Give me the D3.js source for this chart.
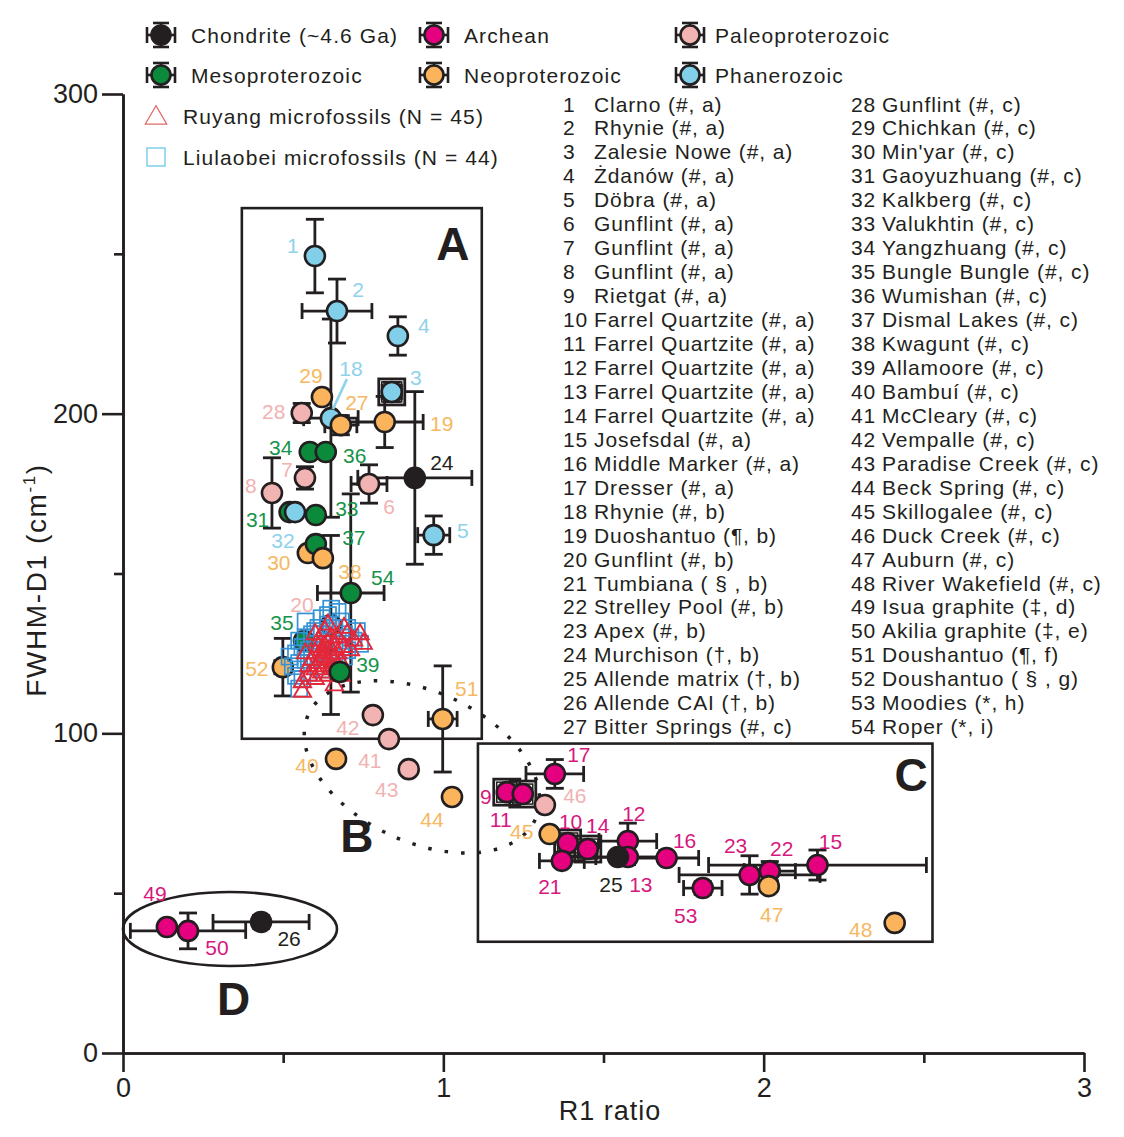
<!DOCTYPE html>
<html>
<head>
<meta charset="utf-8">
<script src="https://cdn.jsdelivr.net/npm/d3@7"></script>
<style>
	body { margin:0; background:#fff; }
	text { font-family: "Liberation Sans", Arial, sans-serif; }
</style>
</head>
<body>
<script>
//site numbers and their age group
var siteIds = [1,2,3,4,5,6,7,8,9,10,11,12,13,14,15,16,17,18,19,20,21,22,23,24,25,26,27,
	28,29,30,31,32,33,34,35,36,37,38,39,40,41,42,43,44,45,46,47,48,49,50,51,52,53,54];
var siteGroup = ["Phan","Phan","Phan","Phan","Phan","Paleo","Paleo","Paleo","Arch","Arch",
	"Arch","Arch","Arch","Arch","Arch","Arch","Arch","Phan","Neo","Paleo",
	"Arch","Arch","Arch","Chond","Chond","Chond","Neo","Paleo","Neo","Neo",
	"Meso","Phan","Meso","Meso","Meso","Meso","Meso","Neo","Meso","Neo",
	"Paleo","Paleo","Paleo","Neo","Neo","Paleo","Neo","Neo","Arch","Arch",
	"Neo","Neo","Arch","Meso"];

//R1 ratio and FWHM-D1 (cm-1) with errors
var r1 = [0.599,0.668,0.839,0.858,0.970,0.768,0.568,0.465,1.198,1.388,
	1.248,1.576,1.576,1.451,2.168,1.697,1.348,0.649,0.817,0.649,
	1.370,2.019,1.956,0.911,1.545,0.431,0.680,0.558,0.621,0.577,
	0.520,0.537,0.602,0.583,0.565,0.633,0.602,0.624,0.677,0.665,
	0.830,0.780,0.892,1.027,1.332,1.317,2.016,2.409,0.137,0.203,
	0.998,0.499,1.810,0.711];
var fwhm = [249.3,232.1,206.8,224.3,162.0,178.0,179.9,175.2,81.6,65.7,
	81.0,66.3,61.3,63.8,58.8,61.0,87.3,198.6,197.4,133.9,
	60.1,56.9,55.7,179.9,61.3,41.0,196.4,200.2,205.2,156.4,
	169.2,169.2,168.3,188.0,128.9,188.0,159.2,154.8,119.2,92.0,
	98.2,105.7,88.8,80.1,68.5,77.6,52.2,40.7,39.4,38.2,
	104.5,120.7,51.6,143.9];
var r1Err = [0.02,0.109,0.03,0.015,0.05,0.056,0.02,0.01,0,0,
	0,0.09,0.1,0,0.34,0.1,0.09,0.085,0.12,0,
	0.07,0.08,0.22,0.178,0.15,0.15,0.05,0.015,0,0,
	0,0,0,0,0,0,0,0,0,0,
	0,0,0,0,0,0,0,0,0,0.18,
	0.045,0.025,0.06,0.104];
var fwhmErr = [11.5,10,3,6,6,6,3.5,11,0,0,
	0,5.6,0,0,4.7,0,4.5,31,8,28,
	1.5,3,6,27,0,2,3,3,0,0,
	0,0,0,0,0,0,0,0,0,0,
	0,0,0,0,0,0,0,0,0,5.6,
	16.6,9,2,31];
var boxedSites = [3,9,11,10,14];

//microfossil clouds
var ruyangR1 = [0.63,0.65,0.61,0.64,0.66,0.62,0.60,0.63,0.65,0.67,
	0.61,0.63,0.65,0.62,0.64,0.66,0.60,0.59,0.68,0.69,
	0.64,0.62,0.66,0.63,0.61,0.58,0.67,0.70,0.72,0.75,
	0.74,0.71,0.56,0.56,0.58,0.60,0.66,0.68,0.69,0.64,
	0.57,0.65,0.62,0.64,0.60];
var ruyangFwhm = [132,130,129,128,127,126,125,124,124,125,
	122,121,121,119,118,120,120,123,122,127,
	126,123,123,127,127,121,130,131,129,128,
	131,126,116,113,118,117,115,118,133,134,
	125,126,124,122,131];
var liulaobeiR1 = [0.62,0.65,0.67,0.68,0.70,0.73,0.71,0.69,0.66,0.64,
	0.61,0.59,0.57,0.55,0.56,0.54,0.58,0.60,0.63,0.66,
	0.68,0.70,0.72,0.55,0.53,0.57,0.59,0.62,0.64,0.66,
	0.54,0.56,0.55,0.58,0.61,0.63,0.67,0.69,0.60,0.64,
	0.52,0.57,0.74,0.62];
var liulaobeiFwhm = [136,139,138,135,133,132,130,131,133,134,
	133,131,130,129,127,125,126,128,129,128,
	127,126,129,122,121,123,124,125,124,123,
	118,117,114,119,121,120,121,124,132,137,
	124,135,128,131];

//legend / site list text
var groupKeys = ["Chond","Arch","Paleo","Meso","Neo","Phan"];
var groupNames = ["Chondrite (~4.6 Ga)","Archean","Paleoproterozoic","Mesoproterozoic","Neoproterozoic","Phanerozoic"];
var siteNames = ["Clarno (#, a)","Rhynie (#, a)","Zalesie Nowe (#, a)","Żdanów (#, a)","Döbra (#, a)",
	"Gunflint (#, a)","Gunflint (#, a)","Gunflint (#, a)","Rietgat (#, a)","Farrel Quartzite (#, a)",
	"Farrel Quartzite (#, a)","Farrel Quartzite (#, a)","Farrel Quartzite (#, a)","Farrel Quartzite (#, a)",
	"Josefsdal (#, a)","Middle Marker (#, a)","Dresser (#, a)","Rhynie (#, b)","Duoshantuo (¶, b)",
	"Gunflint (#, b)","Tumbiana ( § , b)","Strelley Pool (#, b)","Apex (#, b)","Murchison (†, b)",
	"Allende matrix (†, b)","Allende CAI  (†, b)","Bitter Springs  (#, c)",
	"Gunflint (#, c)","Chichkan (#, c)","Min'yar (#, c)","Gaoyuzhuang (#, c)","Kalkberg (#, c)",
	"Valukhtin (#, c)","Yangzhuang (#, c)","Bungle Bungle (#, c)","Wumishan (#, c)","Dismal Lakes (#, c)",
	"Kwagunt (#, c)","Allamoore (#, c)","Bambuí (#, c)","McCleary (#, c)","Vempalle (#, c)",
	"Paradise Creek (#, c)","Beck Spring (#, c)","Skillogalee (#, c)","Duck Creek (#, c)","Auburn (#, c)",
	"River Wakefield (#, c)","Isua  graphite (‡, d)","Akilia graphite (‡, e)","Doushantuo (¶, f)",
	"Doushantuo ( § , g)","Moodies (*, h)","Roper (*, i)"];

//label offsets in px from each point (layout only)
var labelOffset = {1:[-22,-11],2:[21,-22],3:[24,-14],4:[26,-10],5:[29,-5],6:[20,23],7:[-18,-8],8:[-21,-7],
	9:[-21,4],10:[3,-21],11:[-22,25],12:[6,-28],13:[13,27],14:[10,-24],15:[13,-24],16:[18,-18],17:[24,-19],
	18:[20,-50],19:[57,2],20:[-29,-20],21:[-12,26],22:[12,-23],23:[-14,-29],24:[27,-15],25:[-7,27],26:[28,17],
	27:[16,-23],28:[-28,-2],29:[-11,-22],30:[-29,9],31:[-32,7],32:[-12,28],33:[31,-7],34:[-29,-5],35:[-22,-18],
	36:[29,3],37:[38,-7],38:[27,13],39:[28,-7],40:[-29,7],41:[-19,21],42:[-25,12],43:[-22,20],44:[-20,23],
	45:[-28,-3],46:[30,-9],47:[3,28],48:[-34,7],49:[-12,-34],50:[29,17],51:[24,-30],52:[-26,1],53:[-17,27],54:[32,-15]};

//colors
var fillColor = {Chond:"#231f20",Arch:"#e4007f",Paleo:"#f2b3b3",Meso:"#0c8a3c",Neo:"#fbb45c",Phan:"#82cfea"};
var labelColor = {Chond:"#231f20",Arch:"#d6187e",Paleo:"#f1b2b2",Meso:"#16934a",Neo:"#f6b862",Phan:"#8ed2ec"};
var ink = "#231f20";

var width = 1124, height = 1137;
var svg = d3.select("body").append("svg")
	.attr("width", width)
	.attr("height", height);

var xScale = d3.scaleLinear().domain([0,3]).range([123,1084]);
var yScale = d3.scaleLinear().domain([0,300]).range([1053,94]);

//axes
var yAxis = d3.axisLeft(yScale).tickValues([0,100,200,300]).tickSize(21).tickSizeOuter(0).tickPadding(4);
var yMinor = d3.axisLeft(yScale).tickValues([50,150,250]).tickSize(9).tickFormat("").tickSizeOuter(0);
var xAxis = d3.axisBottom(xScale).tickValues([0,1,2,3]).tickFormat(d3.format("d"))
	.tickSize(19).tickSizeOuter(0).tickPadding(6);
var xMinor = d3.axisBottom(xScale).tickValues([0.5,1.5,2.5]).tickSize(10).tickFormat("").tickSizeOuter(0);

[yAxis, yMinor].forEach(function(ax){
	svg.append("g").attr("class","axis").attr("transform","translate(123,0)").call(ax);
});
[xAxis, xMinor].forEach(function(ax){
	svg.append("g").attr("class","axis").attr("transform","translate(0,1053)").call(ax);
});
svg.selectAll(".axis path, .axis line").attr("stroke", ink).attr("stroke-width", 2.6);
svg.selectAll(".axis text").attr("font-size", 27).attr("fill", ink)
	.style("font-family", "'Liberation Sans', Arial, sans-serif");

//axis titles
svg.append("text")
	.attr("x", 610).attr("y", 1120)
	.attr("text-anchor", "middle")
	.attr("font-size", 27).attr("letter-spacing", 1).attr("fill", ink)
	.text("R1 ratio");
var yTitle = svg.append("text")
	.attr("transform", "translate(46,580) rotate(-90)")
	.attr("text-anchor", "middle")
	.attr("font-size", 28).attr("letter-spacing", 1.6).attr("fill", ink);
yTitle.append("tspan").text("FWHM-D1 (cm");
yTitle.append("tspan").attr("font-size", 17).attr("dy", -11).text("-1");
yTitle.append("tspan").attr("dy", 11).text(")");

//region A and C boxes
svg.append("rect")
	.attr("x", xScale(0.371)).attr("y", yScale(264.3))
	.attr("width", xScale(1.12) - xScale(0.371))
	.attr("height", yScale(98.3) - yScale(264.3))
	.attr("fill","none").attr("stroke", ink).attr("stroke-width", 2.6);
svg.append("rect")
	.attr("x", xScale(1.108)).attr("y", yScale(96.8))
	.attr("width", xScale(2.527) - xScale(1.108))
	.attr("height", yScale(34.8) - yScale(96.8))
	.attr("fill","none").attr("stroke", ink).attr("stroke-width", 2.6);

//region B dotted ellipse and D ellipse
svg.append("ellipse")
	.attr("transform", "translate(" + xScale(0.933) + "," + yScale(89.5) + ") rotate(25)")
	.attr("rx", 125).attr("ry", 75)
	.attr("fill","none").attr("stroke", ink).attr("stroke-width", 3.5)
	.attr("stroke-dasharray", "3.5,13");
svg.append("ellipse")
	.attr("cx", xScale(0.334)).attr("cy", yScale(38.8))
	.attr("rx", 107).attr("ry", 37)
	.attr("fill","none").attr("stroke", ink).attr("stroke-width", 2.6);

var regionLabels = [["A",1.03,253],["B",0.73,68],["C",2.46,87],["D",0.345,17]];
svg.selectAll(".region").data(regionLabels).enter().append("text")
	.attr("x", function(d){ return xScale(d[1]); })
	.attr("y", function(d){ return yScale(d[2]); })
	.attr("text-anchor","middle").attr("dominant-baseline","central")
	.attr("font-size", 46).attr("font-weight","bold").attr("fill", ink)
	.text(function(d){ return d[0]; });

//build point table
var points = siteIds.map(function(id, i){
	return {id:id, group:siteGroup[i], x:r1[i], y:fwhm[i], xe:r1Err[i], ye:fwhmErr[i]};
});

//error bars
var eb = svg.append("g").attr("stroke", ink).attr("stroke-width", 2.8).attr("fill","none");
points.forEach(function(p){
	var cx = xScale(p.x), cy = yScale(p.y);
	if (p.xe > 0){
		var x0 = xScale(p.x - p.xe), x1 = xScale(p.x + p.xe);
		eb.append("line").attr("x1",x0).attr("x2",x1).attr("y1",cy).attr("y2",cy);
		eb.append("line").attr("x1",x0).attr("x2",x0).attr("y1",cy-8).attr("y2",cy+8);
		eb.append("line").attr("x1",x1).attr("x2",x1).attr("y1",cy-8).attr("y2",cy+8);
	}
	if (p.ye > 0){
		var y0 = yScale(p.y - p.ye), y1 = yScale(p.y + p.ye);
		eb.append("line").attr("x1",cx).attr("x2",cx).attr("y1",y0).attr("y2",y1);
		eb.append("line").attr("x1",cx-9).attr("x2",cx+9).attr("y1",y0).attr("y2",y0);
		eb.append("line").attr("x1",cx-9).attr("x2",cx+9).attr("y1",y1).attr("y2",y1);
	}
});

//boxes round some points
points.filter(function(p){ return boxedSites.indexOf(p.id) >= 0; }).forEach(function(p){
	eb.append("rect").attr("x", xScale(p.x)-13).attr("y", yScale(p.y)-13)
		.attr("width", 26).attr("height", 26);
	eb.append("rect").attr("x", xScale(p.x)-10).attr("y", yScale(p.y)-10)
		.attr("width", 20).attr("height", 20).attr("stroke-width", 1.5);
});

function drawCircles(sel){
	svg.append("g").selectAll("circle").data(sel).enter().append("circle")
		.attr("cx", function(d){ return xScale(d.x); })
		.attr("cy", function(d){ return yScale(d.y); })
		.attr("r", 10)
		.attr("fill", function(d){ return fillColor[d.group]; })
		.attr("stroke", ink).attr("stroke-width", 2.6);
}
var onTop = [39];
drawCircles(points.filter(function(p){ return onTop.indexOf(p.id) < 0; }));

//Liulaobei squares
svg.append("g").selectAll("rect").data(liulaobeiR1).enter().append("rect")
	.attr("x", function(d){ return xScale(d) - 8; })
	.attr("y", function(d,i){ return yScale(liulaobeiFwhm[i]) - 8; })
	.attr("width", 16).attr("height", 16)
	.attr("fill","none").attr("stroke","#3393d6").attr("stroke-width", 1.7);

//Ruyang triangles
var tri = d3.symbol().type(d3.symbolTriangle).size(130);
svg.append("g").selectAll("path").data(ruyangR1).enter().append("path")
	.attr("d", tri)
	.attr("transform", function(d,i){ return "translate(" + xScale(d) + "," + yScale(ruyangFwhm[i]) + ")"; })
	.attr("fill","none").attr("stroke","#e2283a").attr("stroke-width", 1.9);

drawCircles(points.filter(function(p){ return onTop.indexOf(p.id) >= 0; }));

//point labels
svg.append("g").selectAll("text").data(points).enter().append("text")
	.attr("x", function(d){ return xScale(d.x) + labelOffset[d.id][0]; })
	.attr("y", function(d){ return yScale(d.y) + labelOffset[d.id][1]; })
	.attr("text-anchor","middle").attr("dominant-baseline","central")
	.attr("font-size", 21)
	.attr("fill", function(d){ return labelColor[d.group]; })
	.text(function(d){ return d.id; });

//leader line for site 18
var p18 = points[17];
svg.append("line")
	.attr("x1", xScale(p18.x) + 16).attr("y1", yScale(p18.y) - 39)
	.attr("x2", xScale(p18.x) + 2).attr("y2", yScale(p18.y) - 9)
	.attr("stroke", labelColor.Phan).attr("stroke-width", 2.6);

//legend
function legendSymbol(g, color){
	g.append("line").attr("x1",-14).attr("x2",14).attr("y1",0).attr("y2",0);
	g.append("line").attr("x1",0).attr("x2",0).attr("y1",-12).attr("y2",12);
	g.append("line").attr("x1",-14).attr("x2",-14).attr("y1",-8).attr("y2",8);
	g.append("line").attr("x1",14).attr("x2",14).attr("y1",-8).attr("y2",8);
	g.append("line").attr("x1",-8).attr("x2",8).attr("y1",-12).attr("y2",-12);
	g.append("line").attr("x1",-8).attr("x2",8).attr("y1",12).attr("y2",12);
	g.append("circle").attr("r", 9.5).attr("fill", color);
}
var legendX = [161, 434, 690];
var legend = svg.append("g").selectAll("g").data(groupKeys).enter().append("g")
	.attr("transform", function(d,i){
		var col = [0,1,2,0,1,2][i], row = i < 3 ? 0 : 1;
		return "translate(" + legendX[col] + "," + (35 + row*40) + ")";
	});
legend.each(function(d){
	var sym = d3.select(this).append("g").attr("stroke", ink).attr("stroke-width", 2.6);
	legendSymbol(sym, fillColor[d]);
});
legend.append("text")
	.attr("x", function(d){ return d === "Paleo" || d === "Phan" ? 25 : 30; })
	.attr("dominant-baseline","central")
	.attr("font-size", 21).attr("letter-spacing", 1.1).attr("fill", ink)
	.text(function(d,i){ return groupNames[i]; });

svg.append("path").attr("d", d3.symbol().type(d3.symbolTriangle).size(200))
	.attr("transform","translate(156,118)")
	.attr("fill","none").attr("stroke","#df6b6b").attr("stroke-width", 1.2);
svg.append("text").attr("x",183).attr("y",116).attr("dominant-baseline","central")
	.attr("font-size", 21).attr("letter-spacing", 1.1).attr("fill", ink).text("Ruyang  microfossils (N = 45)");
svg.append("rect").attr("x",147).attr("y",148).attr("width",18).attr("height",18)
	.attr("fill","none").attr("stroke","#5fc4e4").attr("stroke-width", 1.2);
svg.append("text").attr("x",183).attr("y",157).attr("dominant-baseline","central")
	.attr("font-size", 21).attr("letter-spacing", 1.1).attr("fill", ink).text("Liulaobei microfossils (N = 44)");

//site list in two columns
var list = svg.append("g").attr("font-size", 21).attr("letter-spacing", 0.9).attr("fill", ink);
siteIds.forEach(function(id, i){
	var col = i < 27 ? 0 : 1;
	var row = i < 27 ? i : i - 27;
	var x0 = col === 0 ? 563 : 851;
	var y0 = 104 + row*23.95;
	list.append("text").attr("x", x0).attr("y", y0).attr("dominant-baseline","central").text(id);
	list.append("text").attr("x", x0 + 31).attr("y", y0).attr("dominant-baseline","central").text(siteNames[i]);
});
</script>
</body>
</html>
